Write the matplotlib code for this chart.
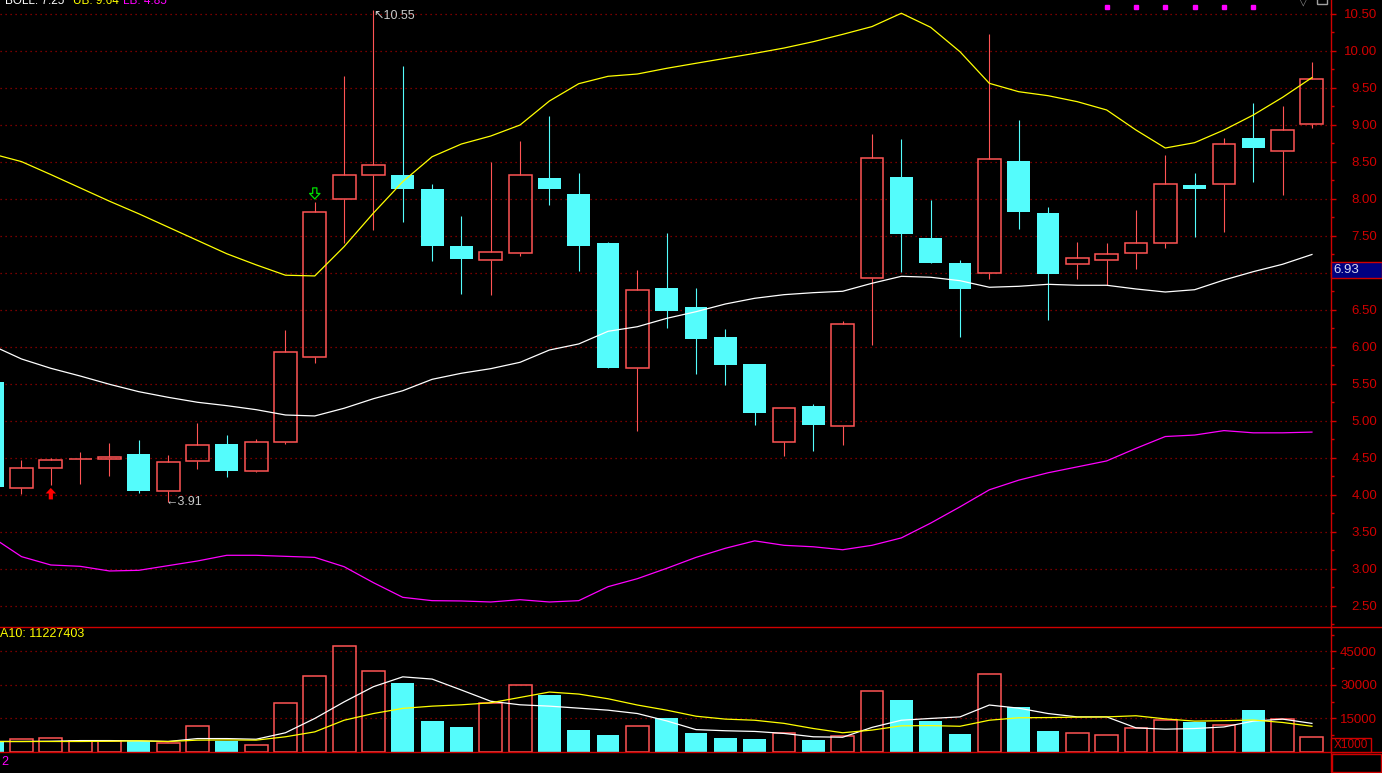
import matplotlib
matplotlib.use('Agg')
import matplotlib.pyplot as plt
import matplotlib.transforms as mtransforms
from matplotlib.patches import Rectangle
from matplotlib.lines import Line2D
from matplotlib.ticker import MultipleLocator
import numpy as np

plt.rcParams['font.family'] = ['Liberation Sans', 'DejaVu Sans']

# ---- data ----
idx = list(range(46))
opens = [5.53, 4.09, 4.36, 4.48, 4.48, 4.55, 4.06, 4.46, 4.69, 4.32,
         4.71, 5.87, 8.00, 8.32, 8.32, 8.14, 7.37, 7.17, 7.27, 8.28,
         8.07, 7.41, 5.71, 6.80, 6.54, 6.14, 5.77, 4.71, 5.20, 4.93,
         6.93, 8.30, 7.47, 7.14, 7.00, 8.51, 7.81, 7.12, 7.17, 7.27,
         7.40, 8.19, 8.20, 8.82, 8.65, 9.01]
highs = [5.55, 4.47, 4.50, 4.58, 4.70, 4.74, 4.54, 4.97, 4.81, 4.76,
         6.23, 7.96, 9.66, 10.55, 9.80, 8.20, 7.77, 8.50, 8.78, 9.12,
         8.35, 7.42, 7.04, 7.54, 6.80, 6.24, 5.77, 5.17, 5.23, 6.35,
         8.88, 8.81, 7.99, 7.18, 10.23, 9.07, 7.89, 7.42, 7.41, 7.85,
         8.59, 8.35, 8.83, 9.30, 9.26, 9.85]
lows = [4.08, 4.02, 4.13, 4.15, 4.25, 4.03, 3.91, 4.35, 4.24, 4.31,
        4.69, 5.79, 7.41, 7.58, 7.69, 7.16, 6.72, 6.70, 7.23, 7.92,
        7.03, 5.71, 4.87, 6.25, 5.64, 5.48, 4.95, 4.53, 4.59, 4.68,
        6.03, 7.02, 7.14, 6.14, 6.92, 7.60, 6.37, 6.92, 6.84, 7.06,
        7.34, 7.48, 7.56, 8.23, 8.05, 8.96]
closes = [4.11, 4.37, 4.47, 4.48, 4.52, 4.06, 4.44, 4.67, 4.33, 4.71,
          5.93, 7.82, 8.32, 8.46, 8.14, 7.37, 7.19, 7.28, 8.32, 8.13,
          7.37, 5.72, 6.77, 6.49, 6.11, 5.75, 5.11, 5.17, 4.95, 6.31,
          8.55, 7.53, 7.14, 6.79, 8.54, 7.82, 6.98, 7.20, 7.25, 7.40,
          8.20, 8.14, 8.74, 8.69, 8.93, 9.62]

boll_up = [8.61, 8.505, 8.33, 8.15, 7.97, 7.80, 7.62, 7.44, 7.26, 7.11,
           6.97, 6.96, 7.356, 7.81, 8.234, 8.571, 8.743, 8.851, 9.0, 9.324,
           9.558, 9.658, 9.689, 9.766, 9.834, 9.901, 9.968, 10.04, 10.126, 10.225,
           10.33, 10.51, 10.32, 9.99, 9.563, 9.45, 9.396, 9.315, 9.203, 8.932,
           8.689, 8.761, 8.932, 9.135, 9.374, 9.64]
boll_mid = [6.02, 5.838, 5.712, 5.608, 5.496, 5.396, 5.32, 5.253, 5.207, 5.153,
            5.081, 5.068, 5.172, 5.301, 5.409, 5.563, 5.645, 5.707, 5.793, 5.959,
            6.041, 6.212, 6.274, 6.387, 6.477, 6.581, 6.658, 6.707, 6.734, 6.753,
            6.861, 6.955, 6.942, 6.896, 6.807, 6.820, 6.847, 6.834, 6.834, 6.784,
            6.743, 6.774, 6.905, 7.018, 7.118, 7.25]
boll_low = [3.43, 3.167, 3.054, 3.036, 2.973, 2.982, 3.045, 3.108, 3.185, 3.185,
            3.171, 3.157, 3.031, 2.815, 2.617, 2.572, 2.568, 2.554, 2.585, 2.554,
            2.572, 2.761, 2.869, 3.009, 3.157, 3.28, 3.38, 3.32, 3.30, 3.26,
            3.32, 3.42, 3.62, 3.84, 4.07, 4.20, 4.30, 4.38, 4.46, 4.63,
            4.79, 4.81, 4.87, 4.84, 4.84, 4.85]

volume = [4520, 5730, 6050, 4700, 4700, 4970, 3810, 11420, 4840, 2910,
          21850, 33810, 47240, 36050, 30810, 13790, 11100, 21720, 29780, 25430,
          9760, 7520, 11420, 15130, 8420, 6180, 5730, 8280, 5280, 6940,
          27090, 23190, 13790, 7970, 34840, 20060, 9310, 8280, 7390, 10520,
          14240, 13480, 11870, 18720, 14550, 6490]
vol_ma5 = [4700, 4700, 4800, 5100, 5100, 5000, 4700, 6000, 6000, 5700,
           8600, 15000, 22400, 29200, 33600, 32600, 27700, 22700, 21100, 20500,
           19600, 18700, 17200, 13900, 10000, 9500, 9200, 8300, 6800, 6600,
           11000, 14200, 15000, 15700, 21000, 19600, 17200, 15700, 15700, 10800,
           10200, 10500, 11200, 13800, 14700, 12800]
vol_ma10 = [4700, 4700, 4700, 4700, 4800, 5000, 4700, 5300, 5400, 5300,
            6800, 9000, 14200, 17200, 19500, 20500, 21100, 22000, 24400, 26800,
            25900, 23800, 21000, 18700, 16000, 14700, 14200, 12800, 10500, 8600,
            9800, 11700, 11800, 11500, 14200, 15300, 15400, 15600, 15700, 16200,
            14800, 13800, 14000, 14300, 13200, 11500]

price_ticks = np.arange(2.5, 10.51, 0.5)
vol_ticks = [15000, 30000, 45000]
buy_mark = 2        # red up arrow
sell_mark = 11      # green hollow down arrow
max_mark = 13
min_mark = 6
dot_marks = [38, 39, 40, 41, 42, 43]
cursor_price = 6.93
vol_ma10_text = 'A10: 11227403'

# ---- styling ----
RED = '#ff5454'
CYAN = '#54fcfc'
AXRED = '#d00000'
GRID = '#a00000'
W, H = 1382, 773
cw = 0.78

fig = plt.figure(figsize=(W / 100, H / 100), dpi=100, facecolor='black')
ax = fig.add_axes([0, 146 / H, 1331 / W, 627 / H], facecolor='black')
axv = fig.add_axes([0, 21 / H, 1331 / W, 125 / H], facecolor='black')

# candles
for i, o, h, l, c in zip(idx, opens, highs, lows, closes):
    if c >= o:
        ax.vlines(i, c, h, color=RED, lw=0.8, zorder=2)
        ax.vlines(i, l, o, color=RED, lw=0.8, zorder=2)
        ax.bar(i, c - o, bottom=o, width=cw, facecolor='none', edgecolor=RED, lw=1.1, zorder=2)
    else:
        ax.vlines(i, l, h, color=CYAN, lw=0.8, zorder=2)
        ax.bar(i, o - c, bottom=c, width=cw, color=CYAN, lw=0, zorder=2)

# bollinger bands
ax.plot(idx, boll_up, color='#ffff00', lw=0.9, zorder=3)
ax.plot(idx, boll_mid, color='white', lw=0.9, zorder=3)
ax.plot(idx, boll_low, color='#ff00ff', lw=0.9, zorder=3)

# marks
ax.annotate('', xy=(buy_mark, lows[buy_mark] - 0.035), xytext=(buy_mark, lows[buy_mark] - 0.19),
            arrowprops=dict(arrowstyle='simple,head_width=0.75,head_length=0.4,tail_width=0.3',
                            color='#ff0000', lw=0, shrinkA=0, shrinkB=0), zorder=4)
ax.annotate('', xy=(sell_mark, highs[sell_mark] + 0.04), xytext=(sell_mark, highs[sell_mark] + 0.19),
            arrowprops=dict(arrowstyle='simple,head_width=0.75,head_length=0.4,tail_width=0.3',
                            facecolor='none', edgecolor='#00e000', lw=0.9, shrinkA=0, shrinkB=0), zorder=4)
ax.text(max_mark, highs[max_mark], '\u2196' + f'{highs[max_mark]:.2f}', color='#c8c8c8',
        fontsize=9, ha='left', va='top', zorder=4)
ax.text(min_mark - 0.08, lows[min_mark], '\u2190' + f'{lows[min_mark]:.2f}', color='#c8c8c8',
        fontsize=9, ha='left', va='center', zorder=4)
trx = mtransforms.blended_transform_factory(ax.transData, ax.transAxes)
ax.plot(dot_marks, [1 - 7 / 627] * len(dot_marks), 's', ms=3, color='#ff00ff', transform=trx,
        clip_on=False, zorder=4)

ax.set_xlim(0.267, 45.65)
ax.set_ylim(2.216, 10.689)
ax.set_yticks(price_ticks)
# the 7.00 label sits under the cursor price box
ax.set_yticklabels(['' if abs(t - 7.0) < 1e-6 else f'{t:.2f}' for t in price_ticks])
ax.yaxis.set_minor_locator(MultipleLocator(0.25))

# volume
for i, o, c, v in zip(idx, opens, closes, volume):
    if c >= o:
        axv.bar(i, v, width=cw, facecolor='none', edgecolor=RED, lw=1.1, zorder=2)
    else:
        axv.bar(i, v, width=cw, color=CYAN, lw=0, zorder=2)
axv.plot(idx, vol_ma5, color='white', lw=0.9, zorder=3)
axv.plot(idx, vol_ma10, color='#ffff00', lw=0.9, zorder=3)
axv.set_xlim(0.267, 45.65)
axv.set_ylim(0, 55880)
axv.set_yticks(vol_ticks)
axv.set_yticklabels([str(t) for t in vol_ticks])
axv.yaxis.set_minor_locator(MultipleLocator(7500))

for a in (ax, axv):
    a.set_xticks([])
    for s in a.spines.values():
        s.set_visible(False)
    a.yaxis.tick_right()
    a.grid(axis='y', which='major', color=GRID, linestyle=(0, (1, 3)), lw=0.9)
    a.set_axisbelow(True)
    a.tick_params(axis='y', which='major', colors=AXRED, length=3.6, width=1, pad=29.5, labelsize=9.5)
    a.tick_params(axis='y', which='minor', colors=AXRED, length=2, width=1)
    plt.setp(a.get_yticklabels(), ha='right')

# frame lines
fig.add_artist(Line2D([1331 / W, 1331 / W], [0, 1], color=AXRED, lw=1, zorder=5))
fig.add_artist(Line2D([0, 1], [146 / H, 146 / H], color=AXRED, lw=1, zorder=5))
fig.add_artist(Line2D([0, 1], [21 / H, 21 / H], color=AXRED, lw=1, zorder=5))

# cursor price box
tr = mtransforms.blended_transform_factory(fig.transFigure, ax.transData)
fig.add_artist(Rectangle((1331 / W, cursor_price), 51 / W, 16 / 74, transform=tr,
                         facecolor='#000080', edgecolor=AXRED, lw=1, zorder=6))
fig.text(1333 / W, cursor_price + 8 / 74, f'{cursor_price:.2f}', transform=tr, color='#d8d8f0',
         fontsize=9.5, ha='left', va='center', zorder=7)

# X1000 box and bottom-right box
fig.add_artist(Rectangle((1331 / W, 21 / H), 40 / W, 14 / H, facecolor='black',
                         edgecolor=AXRED, lw=1, zorder=6))
fig.text(1351 / W, 28 / H, 'X1000', color=AXRED, fontsize=8.5, ha='center', va='center', zorder=7)
fig.add_artist(Rectangle((1332 / W, 1 / H), 49 / W, 18 / H, facecolor='none',
                         edgecolor=AXRED, lw=1, zorder=6))

# header texts (top partly cut off as in the screen)
fig.text(5 / W, 1 - 3.5 / H, f'BOLL: {boll_mid[-1]:.2f}', color='white', fontsize=8.5, va='baseline')
fig.text(73 / W, 1 - 3.5 / H, f'UB: {boll_up[-1]:.2f}', color='#ffff00', fontsize=8.5, va='baseline')
fig.text(123 / W, 1 - 3.5 / H, f'LB: {boll_low[-1]:.2f}', color='#ff00ff', fontsize=8.5, va='baseline')
fig.text(1303 / W, 1 - 1 / H, '\u25bd', color='#909090', fontsize=8, ha='center', va='center')
fig.add_artist(Rectangle((1317 / W, 1 - 4 / H), 10 / W, 7 / H, facecolor='none',
                         edgecolor='#a0a0a0', lw=1))
fig.text(0, 1 - 634 / H, vol_ma10_text, color='#ffff00', fontsize=9, va='center')
fig.text(1 / W, 1 - 762 / H, '2', color='#ff00ff', fontsize=9, va='center')

fig.savefig('out.png', dpi=100, facecolor='black')
